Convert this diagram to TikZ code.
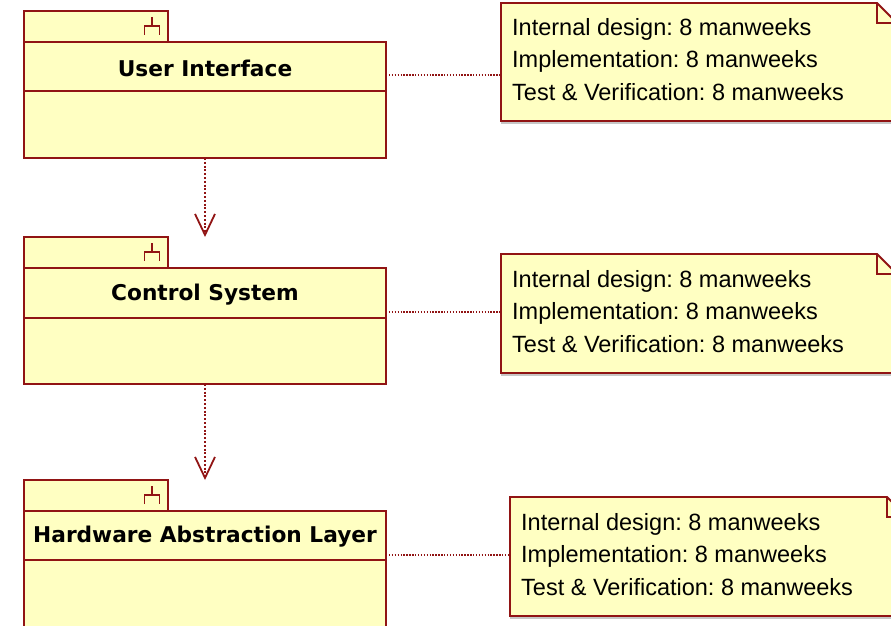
\documentclass[tikz,border=0pt]{standalone}
\usepackage{fontspec}
\setmainfont{Liberation Sans}
\newfontfamily\titlefont{DejaVu Sans}
\usetikzlibrary{arrows.meta}
\frenchspacing
\definecolor{pkgfill}{RGB}{255,255,194}
\definecolor{pkgline}{RGB}{145,20,20}
\tikzset{
  pkgbox/.style={draw=pkgline, fill=pkgfill, line width=1.9pt, inner sep=0pt, outer sep=0pt},
  divline/.style={draw=pkgline, line width=1.9pt},
  pkgtitle/.style={font=\titlefont\bfseries\fontsize{21.7}{26}\selectfont, inner sep=0pt},
  iconline/.style={draw=pkgline, line width=1.6pt},
  pkgicon/.pic={\draw[iconline] (0,0) -- (0,9) (-7.5,18) -- (-7.5,9) -- (7.5,9) -- (7.5,18);},
  noteframe/.style={draw=none, fill=none, inner sep=0pt, outer sep=0pt},
  noteshape/.style={draw=pkgline, fill=pkgfill, line width=1.9pt, line join=miter},
  noteshadow/.style={fill=black!22, draw=none},
  notetext/.style={font=\fontsize{23.5}{32.5}\selectfont\frenchspacing, align=left, inner sep=0pt, anchor=west},
  noteconn/.style={draw=pkgline, line width=1.4pt, dash pattern=on 1.4pt off 1.5pt},
  depconn/.style={draw=pkgline, line width=2pt, dash pattern=on 2pt off 1.8pt,
    -{Straight Barb[length=21pt,width=20pt,line width=1.8pt]}},
}
\begin{document}
\begin{tikzpicture}[x=1pt,y=-1pt]
\useasboundingbox (0,0) rectangle (891,626);
\clip (0,0) rectangle (891,626);
\fill[white] (0,0) rectangle (891,626);

% ---------- packages ----------
\node[pkgbox, anchor=north west, minimum width=362pt, minimum height=116pt] (uib) at (24,42) {};
\node[pkgbox, anchor=south west, minimum width=144pt, minimum height=31pt] (uit) at (uib.north west) {};
\draw[divline] ([yshift=-49pt]uib.north west) -- ([yshift=-49pt]uib.north east);
\node[pkgtitle] (uil) at ([yshift=-26pt]uib.north) {User Interface};
\pic at ([xshift=-16pt,yshift=-6pt]uit.north east) {pkgicon};

\node[pkgbox, anchor=north west, minimum width=362pt, minimum height=116pt] (csb) at (24,268) {};
\node[pkgbox, anchor=south west, minimum width=144pt, minimum height=31pt] (cst) at (csb.north west) {};
\draw[divline] ([yshift=-50pt]csb.north west) -- ([yshift=-50pt]csb.north east);
\node[pkgtitle] (csl) at ([yshift=-26.5pt]csb.north) {Control System};
\pic at ([xshift=-16pt,yshift=-6pt]cst.north east) {pkgicon};

\node[pkgbox, anchor=north west, minimum width=362pt, minimum height=130pt] (hwb) at (24,511) {};
\node[pkgbox, anchor=south west, minimum width=144pt, minimum height=31pt] (hwt) at (hwb.north west) {};
\draw[divline] ([yshift=-49pt]hwb.north west) -- ([yshift=-49pt]hwb.north east);
\node[pkgtitle] (hwl) at ([yshift=-26pt]hwb.north) {Hardware Abstraction Layer};
\pic at ([xshift=-16pt,yshift=-6pt]hwt.north east) {pkgicon};

% ---------- dependencies ----------
\draw[depconn] (uib.south) -- (csb.north |- cst.north);
\draw[depconn] (csb.south) -- (hwb.north |- hwt.north);

% ---------- notes ----------
\node[noteframe, anchor=north west, minimum width=396pt, minimum height=118pt] (n1) at (501,3) {};
\node[noteframe, anchor=north west, minimum width=396pt, minimum height=119pt] (n2) at (501,254) {};
\node[noteframe, anchor=north west, minimum width=397pt, minimum height=119pt] (n3) at (510,497) {};

\foreach \n in {n1,n2,n3}{
  \fill[noteshadow] ([yshift=-2.5pt]\n.south west) rectangle ([xshift=2.5pt]\n.south east);
  \draw[noteshape] (\n.north west) -- ([xshift=-20pt]\n.north east) -- ([yshift=-20pt]\n.north east)
     -- (\n.south east) -- (\n.south west) -- cycle;
  \draw[noteshape, fill=none] ([xshift=-20pt]\n.north east) -- ([xshift=-20pt,yshift=-20pt]\n.north east)
     -- ([yshift=-20pt]\n.north east);
}

\node[notetext] (t1) at ([xshift=11pt,yshift=2.5pt]n1.west) {Internal design: 8 manweeks\\Implementation: 8 manweeks\\Test \& Verification: 8 manweeks};
\node[notetext] (t2) at ([xshift=11pt,yshift=2pt]n2.west) {Internal design: 8 manweeks\\Implementation: 8 manweeks\\Test \& Verification: 8 manweeks};
\node[notetext] (t3) at ([xshift=11pt,yshift=2pt]n3.west) {Internal design: 8 manweeks\\Implementation: 8 manweeks\\Test \& Verification: 8 manweeks};

% ---------- note connectors ----------
\coordinate (c1) at (0,75);
\coordinate (c2) at (0,312);
\coordinate (c3) at (0,555);
\draw[noteconn] (uib.east |- c1) -- (n1.west |- c1);
\draw[noteconn] (csb.east |- c2) -- (n2.west |- c2);
\draw[noteconn] (hwb.east |- c3) -- (n3.west |- c3);
\end{tikzpicture}
\end{document}
